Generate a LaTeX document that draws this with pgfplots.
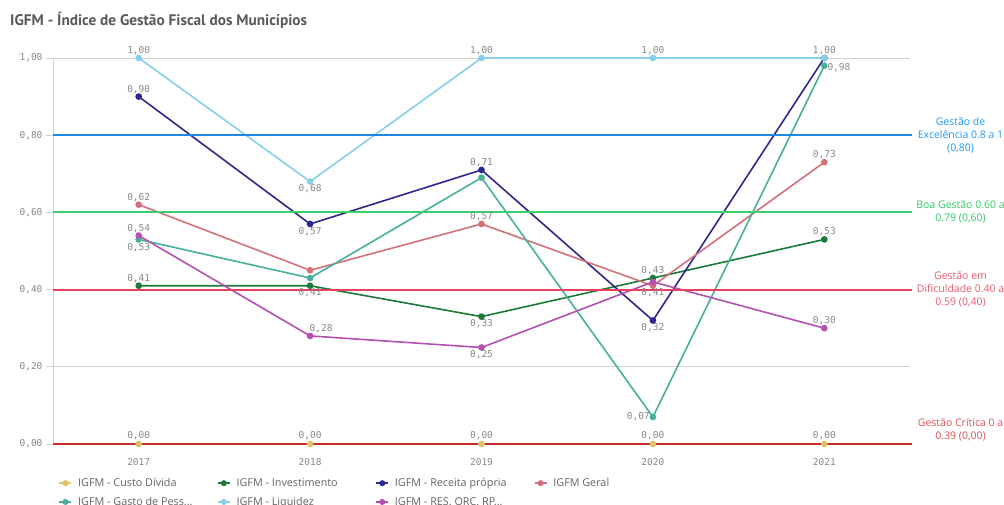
\documentclass[border=0pt]{standalone}
\usepackage{pgfplots}
\pgfplotsset{compat=1.18}
\usepackage{fontspec}
\setmainfont{Open Sans}
\newfontfamily\monof{DejaVu Sans Mono}
\newfontfamily\titlef{PT Sans}
\definecolor{titlegray}{RGB}{89,89,89}
\definecolor{lblgray}{RGB}{135,135,135}
\definecolor{legtext}{RGB}{100,100,100}
\definecolor{ccusto}{RGB}{217,196,106}
\definecolor{cinvest}{RGB}{27,122,56}
\definecolor{creceita}{RGB}{45,40,140}
\definecolor{cgeral}{RGB}{212,112,122}
\definecolor{cgasto}{RGB}{70,176,155}
\definecolor{cliq}{RGB}{135,206,235}
\definecolor{cres}{RGB}{180,80,175}
\definecolor{rblue}{RGB}{30,136,229}
\definecolor{rgreen}{RGB}{60,207,110}
\definecolor{rpink}{RGB}{232,65,94}
\definecolor{rred}{RGB}{200,40,40}
\definecolor{tblue}{RGB}{33,150,243}
\definecolor{tgreen}{RGB}{50,200,100}
\definecolor{tpink}{RGB}{232,90,110}
\definecolor{tred}{RGB}{220,80,90}
\newcommand{\lbl}[4]{\node[font=\monof\fontsize{9.5}{11}\selectfont, text=lblgray, inner sep=1pt, #4] at (axis cs:#1,#2) {#3};}
\newcommand{\leg}[1]{\makebox[137pt][l]{\hspace{4pt}#1}}
\begin{document}
\begin{tikzpicture}[x=1pt,y=1pt]
\begin{axis}[
  at={(53pt,60pt)}, anchor=south west, scale only axis,
  width=857pt, height=386pt,
  xmin=-0.5, xmax=4.5, ymin=0, ymax=1,
  clip=false,
  xtick={0,1,2,3,4}, xticklabels={2017,2018,2019,2020,2021},
  ytick={0,0.2,0.4,0.6,0.8,1},
  yticklabels={{0,00},{0,20},{0,40},{0,60},{0,80},{1,00}},
  ticklabel style={font=\monof\fontsize{9.5}{11}\selectfont, text=lblgray},
  axis lines*=left,
  x axis line style={draw=none},
  y axis line style={draw=black!18, line width=0.8pt},
  ytick style={draw=black!18, line width=0.8pt},
  xtick style={draw=none},
  tick align=outside, major tick length=7pt,
  ymajorgrids, grid style={draw=black!18, line width=0.8pt},
  xticklabel shift=4pt,
  yticklabel shift=0pt,
  every axis plot/.append style={line width=1.6pt, mark=*, mark size=2.5pt},
  legend columns=4,
  legend style={draw=none, fill=none, at={(0.003,-0.078)}, anchor=north west,
    font=\fontsize{10.8}{12}\selectfont, text=legtext,
    /tikz/every even column/.append style={column sep=4pt},
    row sep=5pt},
  legend image code/.code={\draw[mark repeat=2,mark phase=2, line width=1.4pt, mark size=2.3pt] plot coordinates {(0pt,0pt)(6pt,0pt)(12pt,0pt)};},
]
\addplot[ccusto, mark options={fill=ccusto}] coordinates {(0,0)(1,0)(2,0)(3,0)(4,0)};
\addlegendentry{\leg{IGFM - Custo Dívida}}
\addplot[cinvest, mark options={fill=cinvest}] coordinates {(0,0.41)(1,0.41)(2,0.33)(3,0.43)(4,0.53)};
\addlegendentry{\leg{IGFM - Investimento}}
\addplot[creceita, mark options={fill=creceita}] coordinates {(0,0.90)(1,0.57)(2,0.71)(3,0.32)(4,1.00)};
\addlegendentry{\leg{IGFM - Receita própria}}
\addplot[cgeral, mark options={fill=cgeral}] coordinates {(0,0.62)(1,0.45)(2,0.57)(3,0.41)(4,0.73)};
\addlegendentry{\leg{IGFM Geral}}
\addplot[cgasto, mark options={fill=cgasto}] coordinates {(0,0.53)(1,0.43)(2,0.69)(3,0.07)(4,0.98)};
\addlegendentry{\leg{IGFM - Gasto de Pess...}}
\addplot[cliq, mark options={fill=cliq}] coordinates {(0,1.00)(1,0.68)(2,1.00)(3,1.00)(4,1.00)};
\addlegendentry{\leg{IGFM - Liquidez}}
\addplot[cres, mark options={fill=cres}] coordinates {(0,0.54)(1,0.28)(2,0.25)(3,0.42)(4,0.30)};
\addlegendentry{\leg{IGFM - RES. ORC. RP...}}
% reference lines
\addplot[rblue, line width=2pt, mark=none, forget plot] coordinates {(-0.5,0.8)(4.51,0.8)};
\addplot[rgreen, line width=2pt, mark=none, forget plot] coordinates {(-0.5,0.6)(4.51,0.6)};
\addplot[rpink, line width=2pt, mark=none, forget plot] coordinates {(-0.5,0.4)(4.51,0.4)};
\addplot[rred, line width=2.8pt, mark=none, forget plot] coordinates {(-0.5,0)(4.51,0)};
% data labels
\lbl{0}{1.00}{1,00}{anchor=south, yshift=2pt}
\lbl{0}{0.90}{0,90}{anchor=south, yshift=2pt}
\lbl{0}{0.62}{0,62}{anchor=south, yshift=2pt}
\lbl{0}{0.54}{0,54}{anchor=south, yshift=2pt}
\lbl{0}{0.53}{0,53}{anchor=north, yshift=-3pt}
\lbl{0}{0.41}{0,41}{anchor=south, yshift=2pt}
\lbl{0}{0}{0,00}{anchor=south, yshift=3pt}
\lbl{1}{0.68}{0,68}{anchor=north, yshift=-2pt}
\lbl{1}{0.57}{0,57}{anchor=north, yshift=-2pt}
\lbl{1}{0.41}{0,41}{anchor=north, yshift=-2pt}
\lbl{1}{0.28}{0,28}{anchor=south, yshift=2pt, xshift=11pt}
\lbl{1}{0}{0,00}{anchor=south, yshift=3pt}
\lbl{2}{1.00}{1,00}{anchor=south, yshift=2pt}
\lbl{2}{0.71}{0,71}{anchor=south, yshift=2pt}
\lbl{2}{0.57}{0,57}{anchor=south, yshift=2pt}
\lbl{2}{0.33}{0,33}{anchor=north, yshift=-2pt}
\lbl{2}{0.25}{0,25}{anchor=north, yshift=-2pt}
\lbl{2}{0}{0,00}{anchor=south, yshift=3pt}
\lbl{3}{1.00}{1,00}{anchor=south, yshift=2pt}
\lbl{3}{0.43}{0,43}{anchor=south, yshift=2pt}
\lbl{3}{0.41}{0,41}{anchor=north, yshift=-2pt}
\lbl{3}{0.32}{0,32}{anchor=north, yshift=-2pt}
\lbl{3}{0.07}{0,07}{anchor=east, xshift=-2pt}
\lbl{3}{0}{0,00}{anchor=south, yshift=3pt}
\lbl{4}{1.00}{1,00}{anchor=south, yshift=2pt}
\lbl{4}{0.98}{0,98}{anchor=west, xshift=2pt, yshift=-2pt}
\lbl{4}{0.73}{0,73}{anchor=south, yshift=2pt}
\lbl{4}{0.53}{0,53}{anchor=south, yshift=2pt}
\lbl{4}{0.30}{0,30}{anchor=south, yshift=2pt}
\lbl{4}{0}{0,00}{anchor=south, yshift=3pt}
% right-side reference labels
\node[font=\fontsize{10.5}{13}\selectfont, text=tblue, align=center] at (axis cs:4.795,0.8) {Gestão de\\Excelência 0.8 a 1\\(0,80)};
\node[font=\fontsize{10.5}{13}\selectfont, text=tgreen, align=center] at (axis cs:4.795,0.6) {Boa Gestão 0.60 a\\0.79 (0,60)};
\node[font=\fontsize{10.5}{13}\selectfont, text=tpink, align=center] at (axis cs:4.795,0.4) {Gestão em\\Dificuldade 0.40 a\\0.59 (0,40)};
\node[font=\fontsize{10.5}{13}\selectfont, text=tred, align=center] at (axis cs:4.795,0.036) {Gestão Crítica 0 a\\0.39 (0,00)};
\end{axis}
\node[anchor=base west, inner sep=0, font=\titlef\bfseries\fontsize{15.3}{17}\selectfont, text=titlegray] at (10pt,478pt) {IGFM - Índice de Gestão Fiscal dos Municípios};
\pgfresetboundingbox
\useasboundingbox (0pt,0pt) rectangle (1004pt,504pt);
\end{tikzpicture}
\end{document}
